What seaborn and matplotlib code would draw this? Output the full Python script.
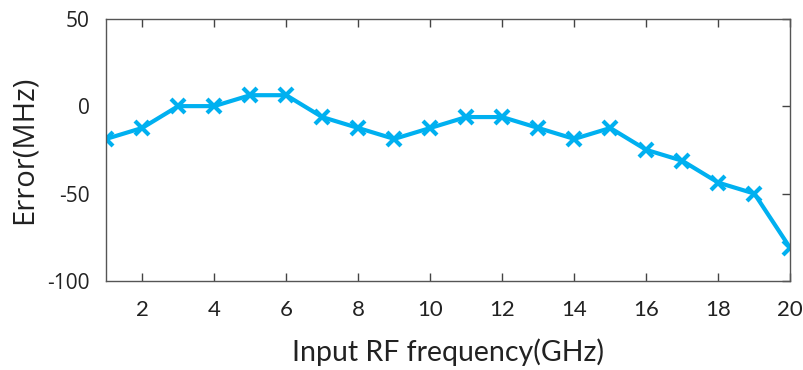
import numpy as np
import pandas as pd
import seaborn as sns
import matplotlib.pyplot as plt

freq_ghz = list(range(1, 21))
error_mhz = [-18.75, -12.5, 0, 0, 6.25, 6.25, -6.25, -12.5, -18.75, -12.5,
             -6.25, -6.25, -12.5, -18.75, -12.5, -25, -31.25, -43.75, -50, -81.25]
x_ticks = [2, 4, 6, 8, 10, 12, 14, 16, 18, 20]
y_ticks = [-100, -50, 0, 50]

df = pd.DataFrame({'freq': freq_ghz, 'error': error_mhz})

sns.set_style('white')
plt.rcParams['font.family'] = ['Open Sans', 'DejaVu Sans']

fig = plt.figure(figsize=(8.04, 3.70), dpi=100)
ax = fig.add_axes([0.132, 0.2405, 0.851, 0.709])

sns.lineplot(data=df, x='freq', y='error', ax=ax, color='#00b0f0', linewidth=3,
             marker='x', markersize=10, markeredgewidth=3, markeredgecolor='#00b0f0')

ax.set_xlim(1, 20)
ax.set_ylim(-100, 50)
ax.set_xticks(x_ticks)
ax.set_yticks(y_ticks)
ax.set_xticklabels([str(t) for t in x_ticks], family='Lato', fontsize=16, color='#222222')
ax.set_yticklabels([str(t) for t in y_ticks], fontsize=15, color='#222222')
ax.tick_params(direction='in', length=6, width=1, color='#444444', top=True, right=True,
               bottom=True, left=False, pad=14)
ax.tick_params(axis='y', pad=12)
for s in ax.spines.values():
    s.set_color('#555555')
    s.set_linewidth(1)

ax.set_xlabel('Input RF frequency(GHz)', family='Lato', fontsize=20.5, color='#222222', labelpad=13)
ax.set_ylabel('Error(MHz)', fontsize=21, color='#222222', labelpad=6)

fig.savefig('out.png', dpi=100)
